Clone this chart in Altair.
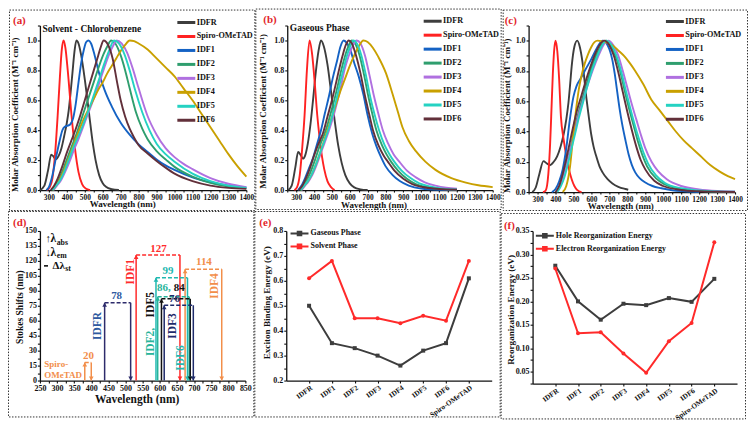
import altair as alt
import pandas as pd

FONT = "Liberation Serif"

NAMES = ["IDFR", "Spiro-OMeTAD", "IDF1", "IDF2", "IDF3", "IDF4", "IDF5", "IDF6"]
COLORS = ["#3d3d3d", "#ff2222", "#1462c4", "#2f9e6e", "#b070e0", "#c9a000", "#25d2c2", "#62303a"]

# ---------------- (a) Solvent - Chlorobenzene : (wavelength nm, normalised absorption)
SOLV_IDFR = [(250, 0), (275, 0.03), (295, 0.13), (313, 0.237), (325, 0.225), (338, 0.205), (355, 0.23), (370, 0.28),
             (385, 0.36), (400, 0.45), (410, 0.53), (420, 0.64), (431, 0.78), (442, 0.92), (453, 1.0), (465, 0.98),
             (480, 0.9), (500, 0.74), (525, 0.5), (545, 0.31), (560, 0.2), (580, 0.1), (600, 0.045), (620, 0.02),
             (650, 0.006), (690, 0.0)]
SOLV_SPIRO = [(290, 0), (305, 0.02), (320, 0.08), (335, 0.25), (349, 0.5), (362, 0.77), (372, 0.94), (382, 1.0),
              (392, 0.95), (405, 0.8), (426, 0.5), (445, 0.28), (465, 0.12), (485, 0.04), (505, 0.01), (530, 0)]
SOLV_IDF1 = [(285, 0), (300, 0.02), (320, 0.1), (340, 0.22), (360, 0.33), (375, 0.4), (390, 0.425), (405, 0.43),
             (420, 0.44), (435, 0.48), (450, 0.58), (465, 0.72), (480, 0.85), (495, 0.94), (508, 0.99), (521, 1.0),
             (535, 0.98), (555, 0.9), (580, 0.78), (610, 0.67), (650, 0.56), (700, 0.45), (750, 0.37), (800, 0.305),
             (850, 0.255), (900, 0.205), (950, 0.165), (1000, 0.135), (1100, 0.085), (1200, 0.052), (1300, 0.03),
             (1400, 0.018)]
SOLV_IDF2 = [(315, 0), (335, 0.03), (355, 0.07), (380, 0.14), (405, 0.22), (430, 0.3), (455, 0.38), (480, 0.47),
             (505, 0.56), (530, 0.65), (555, 0.74), (580, 0.83), (605, 0.91), (625, 0.96), (647, 1.0), (670, 0.98),
             (700, 0.9), (725, 0.8), (750, 0.68), (785, 0.52), (820, 0.41), (850, 0.34), (900, 0.26), (955, 0.2),
             (1000, 0.155), (1100, 0.09), (1200, 0.048), (1300, 0.024), (1400, 0.012)]
SOLV_IDF3 = [(325, 0), (345, 0.03), (365, 0.06), (390, 0.12), (415, 0.19), (440, 0.27), (465, 0.34), (490, 0.42),
             (515, 0.5), (540, 0.58), (565, 0.66), (590, 0.75), (615, 0.84), (640, 0.92), (660, 0.97), (677, 1.0),
             (705, 0.98), (735, 0.92), (765, 0.82), (800, 0.68), (848, 0.5), (900, 0.37), (950, 0.28), (1000, 0.22),
             (1050, 0.175), (1100, 0.14), (1200, 0.08), (1300, 0.042), (1400, 0.02)]
SOLV_IDF4 = [(320, 0), (340, 0.03), (360, 0.07), (380, 0.12), (400, 0.18), (425, 0.26), (450, 0.34), (475, 0.42),
             (500, 0.49), (525, 0.55), (550, 0.61), (575, 0.67), (600, 0.72), (625, 0.78), (650, 0.83), (675, 0.88),
             (700, 0.93), (725, 0.97), (750, 1.0), (775, 0.995), (800, 0.98), (850, 0.94), (900, 0.88), (950, 0.82),
             (1000, 0.76), (1050, 0.68), (1100, 0.6), (1150, 0.51), (1200, 0.42), (1250, 0.33), (1300, 0.24),
             (1350, 0.16), (1400, 0.09)]
SOLV_IDF5 = [(320, 0), (340, 0.03), (360, 0.06), (385, 0.12), (410, 0.2), (435, 0.28), (460, 0.35), (485, 0.42),
             (510, 0.5), (535, 0.58), (560, 0.67), (585, 0.76), (610, 0.85), (635, 0.93), (663, 1.0), (690, 0.98),
             (720, 0.91), (750, 0.8), (780, 0.67), (820, 0.52), (860, 0.4), (900, 0.31), (950, 0.24), (1000, 0.19),
             (1100, 0.11), (1200, 0.06), (1300, 0.03), (1400, 0.015)]
SOLV_IDF6 = [(310, 0), (330, 0.03), (350, 0.08), (375, 0.16), (400, 0.25), (425, 0.33), (450, 0.41), (475, 0.5),
             (500, 0.6), (525, 0.7), (550, 0.8), (575, 0.9), (590, 0.96), (605, 1.0), (630, 0.97), (655, 0.88),
             (680, 0.72), (700, 0.6), (725, 0.49), (750, 0.41), (775, 0.35), (800, 0.3), (850, 0.245), (900, 0.195),
             (950, 0.15), (1000, 0.11), (1100, 0.06), (1200, 0.03), (1300, 0.015), (1400, 0.008)]

# ---------------- (b) Gaseous Phase
GAS_IDFR = [(255, 0), (275, 0.03), (295, 0.15), (311, 0.255), (325, 0.235), (338, 0.21), (350, 0.23), (365, 0.31),
            (380, 0.44), (395, 0.61), (410, 0.79), (425, 0.93), (439, 1.0), (455, 0.96), (475, 0.84), (495, 0.66),
            (515, 0.47), (535, 0.3), (555, 0.18), (575, 0.1), (600, 0.045), (625, 0.018), (660, 0.005), (700, 0)]
GAS_SPIRO = [(290, 0), (305, 0.02), (320, 0.1), (335, 0.3), (347, 0.5), (360, 0.8), (375, 1.0), (390, 0.9),
             (405, 0.7), (418, 0.5), (430, 0.36), (445, 0.22), (457, 0.14), (475, 0.06), (495, 0.02), (515, 0)]
GAS_IDF1 = [(310, 0), (330, 0.03), (350, 0.08), (370, 0.14), (393, 0.21), (415, 0.3), (439, 0.4), (460, 0.51),
            (484, 0.63), (505, 0.75), (530, 0.87), (548, 0.96), (566, 1.0), (585, 0.98), (605, 0.93), (625, 0.85),
            (650, 0.76), (676, 0.64), (700, 0.5), (725, 0.38), (750, 0.29), (775, 0.22), (800, 0.16), (840, 0.1),
            (880, 0.06), (930, 0.03), (1000, 0.01), (1100, 0.002), (1200, 0)]
GAS_IDF2 = [(320, 0), (340, 0.03), (360, 0.07), (380, 0.12), (405, 0.2), (430, 0.29), (466, 0.4), (490, 0.5),
            (515, 0.61), (535, 0.71), (552, 0.8), (572, 0.89), (592, 0.96), (612, 1.0), (630, 0.98), (655, 0.9),
            (680, 0.77), (705, 0.62), (730, 0.49), (749, 0.4), (780, 0.3), (805, 0.24), (831, 0.19), (870, 0.13),
            (920, 0.075), (970, 0.04), (1020, 0.022), (1100, 0.009), (1200, 0.003)]
GAS_IDF3 = [(330, 0), (350, 0.03), (370, 0.06), (390, 0.1), (415, 0.17), (445, 0.27), (484, 0.4), (510, 0.5),
            (532, 0.6), (552, 0.7), (570, 0.8), (592, 0.89), (615, 0.96), (639, 1.0), (660, 0.98), (685, 0.9),
            (710, 0.77), (735, 0.63), (760, 0.51), (785, 0.4), (815, 0.31), (845, 0.24), (877, 0.19), (920, 0.13),
            (970, 0.085), (1020, 0.052), (1080, 0.03), (1140, 0.016), (1200, 0.009)]
GAS_IDF4 = [(325, 0), (345, 0.03), (365, 0.06), (385, 0.1), (410, 0.17), (440, 0.27), (475, 0.4), (500, 0.49),
            (525, 0.58), (550, 0.67), (575, 0.75), (600, 0.83), (625, 0.9), (650, 0.96), (676, 1.0), (700, 0.99),
            (730, 0.95), (760, 0.89), (803, 0.78), (840, 0.64), (870, 0.52), (895, 0.42), (930, 0.33), (970, 0.26),
            (1023, 0.19), (1080, 0.135), (1169, 0.08), (1250, 0.05), (1320, 0.032), (1400, 0.02)]
GAS_IDF5 = [(325, 0), (345, 0.03), (365, 0.06), (385, 0.1), (410, 0.17), (440, 0.27), (479, 0.4), (505, 0.51),
            (528, 0.62), (546, 0.72), (563, 0.8), (582, 0.89), (602, 0.96), (621, 1.0), (640, 0.98), (665, 0.9),
            (690, 0.77), (715, 0.62), (740, 0.5), (764, 0.4), (795, 0.3), (822, 0.24), (849, 0.19), (890, 0.13),
            (940, 0.08), (990, 0.045), (1050, 0.024), (1120, 0.01), (1200, 0.004)]
GAS_IDF6 = [(315, 0), (335, 0.03), (355, 0.08), (375, 0.14), (400, 0.23), (425, 0.31), (450, 0.38), (475, 0.49),
            (500, 0.6), (520, 0.7), (539, 0.8), (560, 0.9), (578, 0.97), (594, 1.0), (612, 0.98), (635, 0.9),
            (660, 0.78), (685, 0.63), (710, 0.5), (730, 0.4), (760, 0.3), (790, 0.23), (813, 0.19), (850, 0.13),
            (900, 0.075), (950, 0.04), (1000, 0.022), (1100, 0.007), (1200, 0.002)]

# ---------------- (c)
C_IDFR = [(270, 0), (290, 0.03), (310, 0.12), (333, 0.204), (350, 0.19), (369, 0.177), (390, 0.2), (409, 0.236),
          (428, 0.3), (445, 0.38), (460, 0.48), (472, 0.59), (482, 0.72), (490, 0.83), (505, 0.96), (521, 1.0),
          (535, 0.96), (550, 0.86), (572, 0.62), (585, 0.5), (599, 0.38), (612, 0.3), (626, 0.24), (645, 0.17),
          (662, 0.13), (690, 0.085), (717, 0.057), (750, 0.035), (789, 0.02), (805, 0.015)]
C_SPIRO = [(330, 0), (345, 0.01), (360, 0.12), (370, 0.32), (376, 0.5), (385, 0.78), (392, 0.93), (400, 1.0),
           (410, 0.93), (420, 0.75), (430, 0.5), (445, 0.35), (460, 0.24), (475, 0.15), (490, 0.085), (505, 0.04),
           (520, 0.015), (545, 0)]
C_IDF1 = [(380, 0), (400, 0.02), (420, 0.07), (440, 0.15), (460, 0.29), (481, 0.49), (500, 0.63), (517, 0.7),
          (540, 0.75), (572, 0.82), (600, 0.88), (630, 0.95), (662, 1.0), (690, 0.97), (717, 0.87), (730, 0.78),
          (744, 0.66), (757, 0.55), (771, 0.45), (790, 0.34), (807, 0.25), (825, 0.18), (844, 0.13), (870, 0.09),
          (898, 0.065), (940, 0.04), (989, 0.025), (1050, 0.012), (1120, 0.005), (1200, 0)]
C_IDF2 = [(405, 0), (425, 0.04), (445, 0.11), (465, 0.2), (485, 0.3), (505, 0.41), (525, 0.51), (550, 0.62),
          (575, 0.72), (600, 0.82), (625, 0.9), (650, 0.96), (680, 1.0), (708, 0.97), (734, 0.9), (760, 0.8),
          (785, 0.67), (810, 0.55), (835, 0.44), (860, 0.33), (885, 0.24), (910, 0.17), (960, 0.09), (1010, 0.05),
          (1100, 0.02), (1200, 0.008), (1300, 0.003), (1400, 0.001)]
C_IDF3 = [(405, 0), (425, 0.04), (445, 0.1), (465, 0.19), (485, 0.29), (505, 0.39), (525, 0.49), (550, 0.59),
          (575, 0.69), (600, 0.78), (625, 0.86), (650, 0.93), (672, 0.98), (695, 1.0), (722, 0.97), (750, 0.9),
          (775, 0.8), (800, 0.69), (825, 0.58), (850, 0.48), (875, 0.38), (900, 0.29), (935, 0.2), (970, 0.14),
          (1020, 0.085), (1100, 0.04), (1200, 0.018), (1300, 0.008), (1400, 0.004)]
C_IDF4 = [(440, 0), (460, 0.04), (481, 0.17), (499, 0.38), (517, 0.57), (530, 0.68), (545, 0.77), (563, 0.85),
          (581, 0.91), (600, 0.96), (617, 0.99), (635, 1.0), (660, 0.995), (690, 0.985), (717, 0.97), (750, 0.935),
          (789, 0.89), (815, 0.85), (844, 0.8), (890, 0.71), (934, 0.61), (980, 0.54), (1025, 0.47), (1070, 0.4),
          (1115, 0.34), (1160, 0.29), (1206, 0.24), (1260, 0.18), (1315, 0.135), (1360, 0.105), (1400, 0.085)]
C_IDF5 = [(410, 0), (430, 0.04), (450, 0.1), (470, 0.19), (490, 0.29), (510, 0.39), (530, 0.49), (555, 0.6),
          (580, 0.71), (605, 0.81), (630, 0.89), (655, 0.96), (684, 1.0), (712, 0.97), (740, 0.9), (765, 0.8),
          (790, 0.68), (815, 0.56), (840, 0.45), (865, 0.35), (890, 0.26), (915, 0.19), (960, 0.11), (1010, 0.06),
          (1100, 0.025), (1200, 0.01), (1300, 0.004), (1400, 0.002)]
C_IDF6 = [(400, 0), (420, 0.04), (440, 0.12), (460, 0.22), (480, 0.33), (500, 0.44), (520, 0.54), (545, 0.64),
          (570, 0.74), (595, 0.83), (620, 0.91), (645, 0.97), (671, 1.0), (700, 0.97), (725, 0.9), (750, 0.79),
          (775, 0.66), (800, 0.53), (825, 0.41), (850, 0.3), (875, 0.21), (900, 0.15), (950, 0.075), (1000, 0.04),
          (1100, 0.014), (1200, 0.005), (1300, 0.002), (1400, 0)]

# ---------------- (d) Stokes shifts
STK_NAMES = ["Spiro-OMeTAD", "IDFR", "IDF1", "IDF6", "IDF2", "IDF5", "IDF3", "IDF4"]
STK_ABS = [381, 439, 531, 589, 594, 605, 613, 674]
STK_EM = [400, 515, 659, 681, 686, 689, 698, 781]
STK_TOP = [18, 78, 126, 103, 84, 82, 75.5, 111.6]
STK_COLORS = ["#f28e4a", "#2d2b6b", "#ff2b2b", "#1fb8b0", "#27b49a", "#111111", "#1f2b6b", "#f28e4a"]
VAL_TEXT = ["20", "78", "127", "99", "86,", "84", "76", "114"]
VAL_X = [392, 474, 596, 624, 612, 657, 643, 729]
VAL_Y = [24.5, 85, 131.5, 110, 93, 93, 82, 118.5]
VAL_COLORS = ["#f28e4a", "#2e5aa0", "#ff2b2b", "#1fb8b0", "#27b49a", "#111111", "#1f2b6b", "#f28e4a"]
NAME_TEXT = ["IDFR", "IDF1", "IDF2,", "IDF5", "IDF3", "IDF6", "IDF4"]
NAME_X = [420, 515, 575, 575, 638, 663, 762]
NAME_Y = [54.7, 109, 38.7, 76, 54.7, 22.7, 94.7]
NAME_COLORS = ["#2e5aa0", "#ff2b2b", "#27b49a", "#111111", "#1f2b6b", "#1fb8b0", "#f28e4a"]

# ---------------- (e) / (f)
CATS = ["IDFR", "IDF1", "IDF2", "IDF3", "IDF4", "IDF5", "IDF6", "Spiro-OMeTAD"]
GAS_EB = [0.50, 0.35, 0.33, 0.30, 0.26, 0.32, 0.35, 0.61]
SOLV_EB = [0.61, 0.68, 0.45, 0.45, 0.43, 0.46, 0.44, 0.68]
HOLE_RE = [0.276, 0.200, 0.161, 0.195, 0.192, 0.207, 0.199, 0.248]
ELEC_RE = [0.270, 0.132, 0.134, 0.089, 0.048, 0.115, 0.154, 0.326]

# tick positions (major + minor)
SPEC_XTICKS = list(range(250, 1401, 50))
SPEC_YTICKS = [round(i * 0.1, 1) for i in range(12)]
STK_XTICKS = list(range(250, 851, 25))
STK_YTICKS = [i * 7.5 for i in range(21)]
EB_YTICKS = [round(0.2 + i * 0.05, 2) for i in range(13)]
RE_YTICKS = [round(0.025 + i * 0.025, 3) for i in range(14)]

AXIS_CFG = dict(labelFont=FONT, labelFontWeight="bold", labelFontSize=8, labelColor="#111",
                titleFont=FONT, titleFontWeight="bold", titleFontSize=9, titleColor="#111",
                domainColor="#111", domainWidth=1.3, tickColor="#111", tickWidth=1.1, tickSize=2.5,
                grid=False, labelPadding=1, labelFlush=False, labelOverlap=False)


def one():
    return pd.DataFrame({"k": [0]})


def frame(L, W, R, T, H, B):
    return alt.Chart(one()).mark_rect(fill="transparent", stroke="#333", strokeWidth=1,
                                      strokeDash=[1.5, 1.5]).encode(
        x=alt.value(-L + 0.5), x2=alt.value(W + R - 0.5), y=alt.value(-T + 0.5), y2=alt.value(H + B - 0.5))


def label_text(text, x, y, size=11, color="#e3262b", align="left", angle=0, baseline="alphabetic"):
    return alt.Chart(pd.DataFrame({"t": [text]})).mark_text(
        font=FONT, fontWeight="bold", fontSize=size, color=color, align=align, baseline=baseline,
        angle=angle).encode(text="t:N", x=alt.value(x), y=alt.value(y))


def curves_df(curves, key):
    rows = []
    for name, pts in zip(NAMES, curves):
        for x, y in pts:
            rows.append({key: name, "wl": x, "v": y})
    return pd.DataFrame(rows)


def spectra(curves, key, dims, letter, tag_xy, title, title_xy, leg_xy, xt, yt):
    L, W, R, T, H, B = dims
    df = curves_df(curves, key)
    lines = alt.Chart(df).mark_line(strokeWidth=1.9, interpolate="monotone").encode(
        x=alt.X("wl:Q", scale=alt.Scale(domain=[250, 1400], nice=False, zero=False),
                axis=alt.Axis(values=SPEC_XTICKS, labelExpr="datum.value % 100 == 0 ? datum.value : ''",
                              labelFontSize=7.4, tickSize=2, title="Wavelength (nm)",
                              titleX=xt[0], titleY=xt[1], titleBaseline="alphabetic")),
        y=alt.Y("v:Q", scale=alt.Scale(domain=[0, 1.1], nice=False),
                axis=alt.Axis(values=SPEC_YTICKS,
                              labelExpr="round(datum.value*10) % 2 == 0 && datum.value < 1.05 ? format(datum.value, '.1f') : ''",
                              title="Molar Absorption Coefficient (M\u207b\u00b9 cm\u207b\u00b9)",
                              titleX=yt[0], titleY=yt[1], titleBaseline="middle", titleAngle=270)),
        color=alt.Color(key + ":N", sort=NAMES, scale=alt.Scale(domain=NAMES, range=COLORS),
                        legend=alt.Legend(title=None, orient="none", legendX=leg_xy[0], legendY=leg_xy[1],
                                          symbolType="M-3,0H3", symbolSize=36, symbolStrokeWidth=3,
                                          labelFont=FONT, labelFontWeight="bold", labelFontSize=8.2,
                                          labelColor="#111", labelOffset=6, rowPadding=1, padding=0)),
    )
    layers = [frame(L, W, R, T, H, B), lines, label_text(letter, tag_xy[0], tag_xy[1])]
    if title:
        layers.append(label_text(title, title_xy[0], title_xy[1], size=9.5, color="#111"))
    return alt.layer(*layers).properties(width=W, height=H)


def stokes(dims):
    L, W, R, T, H, B = dims
    stk = pd.DataFrame({"name": STK_NAMES, "abs": STK_ABS, "em": STK_EM, "top": STK_TOP,
                        "col": STK_COLORS, "zero": [0] * len(STK_NAMES)})
    xs = alt.Scale(domain=[250, 850], nice=False, zero=False)
    ys = alt.Scale(domain=[0, 150], nice=False)
    xa = alt.Axis(values=STK_XTICKS, labelExpr="datum.value % 50 == 0 ? datum.value : ''",
                  title="Wavelength (nm)", titleX=97, titleY=22,
                  titleBaseline="alphabetic", titleFontSize=11.5)
    ya = alt.Axis(values=STK_YTICKS, labelExpr="datum.value % 15 == 0 ? datum.value : ''",
                  title="Stokes Shifts (nm)", titleX=-20, titleY=76,
                  titleBaseline="middle", titleAngle=270, titleFontSize=9.5)
    col = alt.Color("col:N", scale=None)
    up = alt.Chart(stk).mark_rule(strokeWidth=1.5).encode(
        x=alt.X("abs:Q", scale=xs, axis=xa), y=alt.Y("zero:Q", scale=ys, axis=ya), y2="top:Q", color=col)
    down = alt.Chart(stk).mark_rule(strokeWidth=1.5).encode(
        x=alt.X("em:Q", scale=xs, axis=xa), y=alt.Y("zero:Q", scale=ys, axis=ya), y2="top:Q", color=col)
    dash = alt.Chart(stk).mark_rule(strokeWidth=1.5, strokeDash=[4, 2]).encode(
        x=alt.X("abs:Q", scale=xs, axis=xa), x2="em:Q", y=alt.Y("top:Q", scale=ys, axis=ya), color=col)
    head_up = alt.Chart(stk).mark_point(shape="triangle-up", filled=True, size=22, opacity=1, yOffset=2).encode(
        x=alt.X("abs:Q", scale=xs, axis=xa), y=alt.Y("top:Q", scale=ys, axis=ya), color=col)
    head_dn = alt.Chart(stk).mark_point(shape="triangle-down", filled=True, size=22, opacity=1, yOffset=-2).encode(
        x=alt.X("em:Q", scale=xs, axis=xa), y=alt.Y("zero:Q", scale=ys, axis=ya), color=col)
    vals = pd.DataFrame({"t": VAL_TEXT, "x": VAL_X, "y": VAL_Y, "c": VAL_COLORS})
    vtext = alt.Chart(vals).mark_text(font=FONT, fontWeight="bold", fontSize=11, baseline="middle").encode(
        x=alt.X("x:Q", scale=xs, axis=xa), y=alt.Y("y:Q", scale=ys, axis=ya), text="t:N",
        color=alt.Color("c:N", scale=None))
    names = pd.DataFrame({"t": NAME_TEXT, "x": NAME_X, "y": NAME_Y, "c": NAME_COLORS})
    ntext = alt.Chart(names).mark_text(font=FONT, fontWeight="bold", fontSize=11.5, angle=270,
                                       baseline="middle", align="center").encode(
        x=alt.X("x:Q", scale=xs, axis=xa), y=alt.Y("y:Q", scale=ys, axis=ya), text="t:N",
        color=alt.Color("c:N", scale=None))
    spiro = pd.DataFrame({"t": ["Spiro-", "OMeTAD"], "x": [263, 263], "y": [16.3, 5.1]})
    stext = alt.Chart(spiro).mark_text(font=FONT, fontWeight="bold", fontSize=9, align="left",
                                       baseline="middle", color="#f28e4a").encode(
        x=alt.X("x:Q", scale=xs, axis=xa), y=alt.Y("y:Q", scale=ys, axis=ya), text="t:N")
    # key of the symbols
    keys = pd.DataFrame({"t": ["\u2191", "\u2193", "\u03bb", "\u03bb", "\u0394\u03bb"],
                         "x": [266, 266, 281, 281, 287], "y": [141.7, 128.3, 141.7, 128.3, 115],
                         "s": [11, 11, 11.5, 11.5, 11]})
    ktext = alt.Chart(keys).mark_text(font=FONT, fontWeight="bold", baseline="middle", align="left",
                                      color="#111").encode(
        x=alt.X("x:Q", scale=xs, axis=xa), y=alt.Y("y:Q", scale=ys, axis=ya), text="t:N",
        size=alt.Size("s:Q", scale=None))
    subs = pd.DataFrame({"t": ["abs", "em", "st"], "x": [299, 299, 324], "y": [138.3, 124.8, 111.5]})
    subtext = alt.Chart(subs).mark_text(font=FONT, fontWeight="bold", fontSize=7.8, baseline="middle",
                                        align="left", color="#111").encode(
        x=alt.X("x:Q", scale=xs, axis=xa), y=alt.Y("y:Q", scale=ys, axis=ya), text="t:N")
    kdash = alt.Chart(pd.DataFrame({"x": [262], "x2": [280], "y": [115]})).mark_rule(
        strokeWidth=1.6, strokeDash=[4, 2.5], color="#111").encode(
        x=alt.X("x:Q", scale=xs, axis=xa), x2="x2:Q", y=alt.Y("y:Q", scale=ys, axis=ya))
    return alt.layer(frame(L, W, R, T, H, B), up, down, dash, head_up, head_dn, vtext, ntext, stext,
                     ktext, subtext, kdash, label_text("(d)", -L + 5, -4.6)).properties(width=W, height=H)


def energies(dims, key, letter, tag_xy, series, vals_a, vals_b, domain, ticks, lexpr, ytitle, yt, leg_xy):
    L, W, R, T, H, B = dims
    df = pd.DataFrame({"cat": CATS * 2, "val": vals_a + vals_b,
                       key: [series[0]] * len(CATS) + [series[1]] * len(CATS)})
    xa = alt.Axis(title=None, labelAngle=-35, labelAlign="right", labelBaseline="top", labelFontSize=7.3,
                  labelPadding=0.5)
    ya = alt.Axis(values=ticks, labelExpr=lexpr, title=ytitle, titleX=yt[0], titleY=yt[1],
                  titleBaseline="middle", titleAngle=270, titleFontSize=9.2)
    xs = alt.Scale(type="point", padding=1)
    ys = alt.Scale(domain=domain, nice=False, zero=False)
    cs = alt.Scale(domain=series, range=["#3d3d3d", "#ff2a2a"])
    line = alt.Chart(df).mark_line(strokeWidth=2).encode(
        x=alt.X("cat:N", sort=CATS, scale=xs, axis=xa),
        y=alt.Y("val:Q", scale=ys, axis=ya),
        color=alt.Color(key + ":N", scale=cs, sort=series,
                        legend=alt.Legend(title=None, orient="none", legendX=leg_xy[0], legendY=leg_xy[1],
                                          symbolType="M-3,0H3M-0.6,-0.6H0.6V0.6H-0.6Z", symbolSize=36,
                                          symbolStrokeWidth=2, labelFont=FONT, labelFontWeight="bold",
                                          labelFontSize=8, labelColor="#111", labelOffset=7, rowPadding=1,
                                          padding=0)))
    pa = alt.Chart(df).transform_filter(alt.datum[key] == series[0]).mark_point(
        shape="square", filled=True, size=16, opacity=1).encode(
        x=alt.X("cat:N", sort=CATS, scale=xs, axis=xa), y=alt.Y("val:Q", scale=ys, axis=ya),
        color=alt.Color(key + ":N", scale=cs, legend=None))
    pb = alt.Chart(df).transform_filter(alt.datum[key] == series[1]).mark_point(
        shape="circle", filled=True, size=16, opacity=1).encode(
        x=alt.X("cat:N", sort=CATS, scale=xs, axis=xa), y=alt.Y("val:Q", scale=ys, axis=ya),
        color=alt.Color(key + ":N", scale=cs, legend=None))
    return alt.layer(frame(L, W, R, T, H, B), line, pa, pb,
                     label_text(letter, tag_xy[0], tag_xy[1])).properties(width=W, height=H)


DA = (31, 207, 9, 16, 165, 21)
DB = (32, 206, 9, 17, 165, 20)
DC = (26, 207, 13, 16, 167, 19)
DD = (32, 206, 9, 20, 150, 37)
DE = (32, 206, 9, 20, 150, 37)
DF = (32, 205, 9, 18, 153, 36)

pa_ = spectra([SOLV_IDFR, SOLV_SPIRO, SOLV_IDF1, SOLV_IDF2, SOLV_IDF3, SOLV_IDF4, SOLV_IDF5, SOLV_IDF6],
              "solv", DA, "(a)", (-27, -1.6), "Solvent - Chlorobenzene", (2.6, 6.6), (142.3, -7.5),
              (82.6, 16.3), (-25, 89))
pb_ = spectra([GAS_IDFR, GAS_SPIRO, GAS_IDF1, GAS_IDF2, GAS_IDF3, GAS_IDF4, GAS_IDF5, GAS_IDF6],
              "gas", DB, "(b)", (-24, -3), "Gaseous Phase", (2.6, 6), (141.3, -8.8), (86.5, 17), (-25, 85.6))
pc_ = spectra([C_IDFR, C_SPIRO, C_IDF1, C_IDF2, C_IDF3, C_IDF4, C_IDF5, C_IDF6],
              "third", DC, "(c)", (-24, -1.6), None, None, (142.2, -8.5), (92, 16.8), (-22, 90))
pd_ = stokes(DD)
pe_ = energies(DE, "ebser", "(e)", (-27, -4.6), ["Gaseous Phase", "Solvent Phase"], GAS_EB, SOLV_EB, [0.2, 0.8],
               EB_YTICKS, "round(datum.value*100) % 10 == 0 ? format(datum.value, '.1f') : ''",
               "Exciton Binding Energy (eV)", (-20, 71.5), (9.3, -1.5))
pf_ = energies(DF, "reser", "(f)", (-28.7, -2), ["Hole Reorganization Energy", "Electron Reorganization Energy"],
               HOLE_RE, ELEC_RE, [0.025, 0.35], RE_YTICKS,
               "round(datum.value*1000) % 50 == 0 ? format(datum.value, '.2f') : ''",
               "Reorganization Energy (eV)", (-21.8, 78.6), (8.3, 0.8))

row1 = alt.hconcat(pa_, pb_, pc_, spacing=0).resolve_scale(color="independent").resolve_legend(color="independent")
row2 = alt.hconcat(pd_, pe_, pf_, spacing=0).resolve_scale(color="independent").resolve_legend(color="independent")
chart = alt.vconcat(row1, row2, spacing=0).resolve_scale(color="independent").resolve_legend(
    color="independent").properties(padding=0, background="white").configure_axis(
    **AXIS_CFG).configure_view(stroke=None)

chart.save("out.html", embed_options={"renderer": "svg", "actions": False})
